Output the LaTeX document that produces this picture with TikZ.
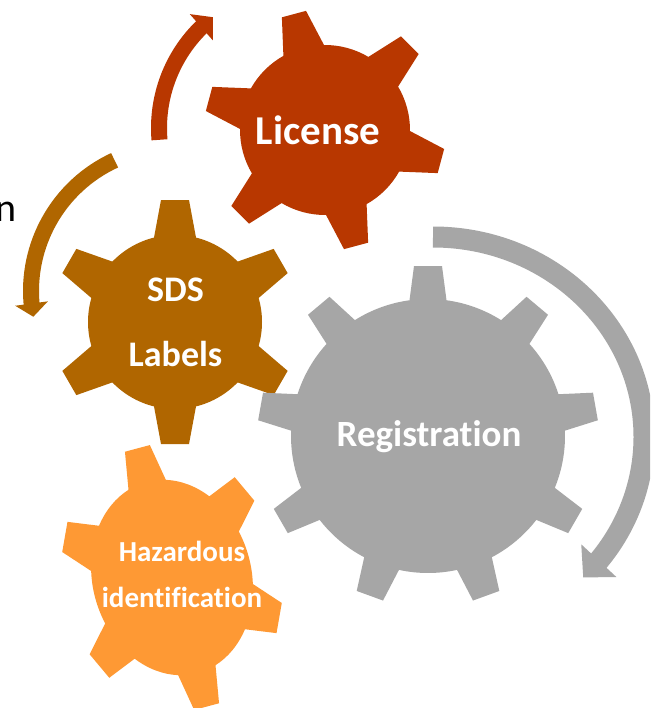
\documentclass[tikz,border=0pt]{standalone}
\usepackage{fontspec}
\setmainfont{Carlito}[Ligatures={NoCommon}]
\usetikzlibrary{calc}
\definecolor{licC}{RGB}{184,55,0}
\definecolor{sdsC}{RGB}{176,102,0}
\definecolor{regC}{RGB}{166,166,166}
\definecolor{hazC}{RGB}{254,153,52}
% #1 colour, #2 teeth, #3 first tooth angle, #4 tip radius, #5 body radius, #6 tip half width, #7 base half width
\newcommand\gearfill[7]{%
  \pgfmathsetmacro\gstep{360/#2}%
  \pgfmathsetmacro\gpb{asin(#7/#5)}%
  \pgfmathsetmacro\gpt{atan(#6/#4)}%
  \pgfmathsetmacro\grt{#4/cos(\gpt)}%
  \fill[#1] ({#3-\gpb}:#5) \foreach \k in {1,...,#2} {
     -- ({#3+(\k-1)*\gstep-\gpt}:\grt) -- ({#3+(\k-1)*\gstep+\gpt}:\grt)
     -- ({#3+(\k-1)*\gstep+\gpb}:#5)
     arc[start angle={#3+(\k-1)*\gstep+\gpb}, end angle={#3+\k*\gstep-\gpb}, radius=#5]
  } -- cycle;
}
% #1 colour, #2 centre, #3 x radius, #4 y radius, #5 start, #6 head back, #7 tip, #8 width, #9 head half width
\newcommand\circarrow[9]{%
  \pgfmathsetmacro\aext{#6+1.2*sign(#6-#5)}%
  \draw[#1, line width=#8pt] ($(#2)+(#5:#3 and #4)$) arc[start angle=#5, end angle=\aext, x radius=#3, y radius=#4];
  \coordinate (hp) at ($(#2)+(#6:#3 and #4)$);
  \coordinate (ht) at ($(#2)+(#7:#3 and #4)$);
  \fill[#1] ($(hp)!#9pt!90:(ht)$) -- (ht) -- ($(hp)!#9pt!-90:(ht)$) -- cycle;
}
\tikzset{lbl/.style={text=white, font=\bfseries\fontsize{#1}{#1}\selectfont, anchor=base, inner sep=0pt}}
\begin{document}
\begin{tikzpicture}[x=1pt, y=1pt]
\useasboundingbox (0,0) rectangle (650,-708);
\clip (0,0) rectangle (650,-708);
\fill[white] (0,0) rectangle (650,-708);
\coordinate (cLic) at (325,-130);
\coordinate (cSds) at (175,-322);
\coordinate (cReg) at (428,-436);
\coordinate (aLic) at (300,-128);
\coordinate (aSds) at (175,-291);
\coordinate (aReg) at (433,-437);
% arrows
\circarrow{licC}{aLic}{141}{141}{184.8}{134.4}{128.2}{16}{17.5}
\circarrow{sdsC}{aSds}{144}{144}{114.8}{185}{190.3}{16}{16.5}
\circarrow{regC}{aReg}{211}{200}{90}{-38.2}{-44.6}{21}{24}
% gears
\begin{scope}[cm={1.0375,0.277,-0.346,1.291,(172,-577.5)}]
  \gearfill{hazC}{6}{30}{100}{74}{12}{18}
\end{scope}
\begin{scope}[shift={(cSds)}]
  \gearfill{sdsC}{6}{30}{122}{87}{14}{21}
\end{scope}
\begin{scope}[shift={(cLic)}]
  \gearfill{licC}{6}{45}{120}{85}{12.5}{21}
\end{scope}
\begin{scope}[shift={(cReg)}]
  \gearfill{regC}{9}{90}{170}{137}{14}{18.5}
\end{scope}
% labels
\node[lbl=41] (tLic) at (318,-145) {License};
\node[lbl=36] (tSds) at (175.5,-301.7) {SDS};
\node[lbl=36] (tLab) at (175.5,-366) {Labels};
\node[lbl=37] (tReg) at (429,-446.5) {Registration};
\node[lbl=29] (tHaz) at (182,-561.5) {Hazardous};
\node[lbl=29] (tIde) at (182,-607.5) {identification};
\node[anchor=base east, inner sep=0pt, font=\fontsize{40}{40}\selectfont] (tN) at (17,-222) {n};
\end{tikzpicture}
\end{document}
